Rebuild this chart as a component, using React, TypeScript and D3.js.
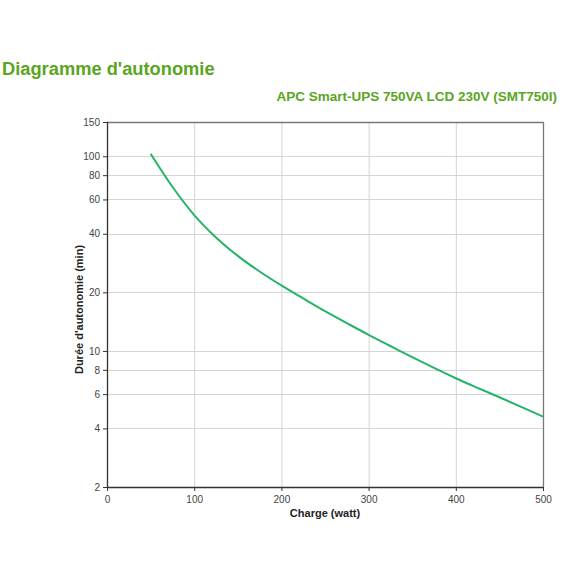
import React, { useEffect, useRef } from 'react'
import * as d3 from 'd3'

// charge (W) -> durée d'autonomie (min)
const charge = [50, 75, 100, 125, 150, 175, 200, 225, 250, 275, 300, 325, 350, 375, 400, 425, 450, 475, 500]
const autonomie = [103, 69.7, 49.9, 38.3, 30.8, 25.6, 21.7, 18.6, 16.0, 13.9, 12.1, 10.6, 9.29, 8.18, 7.24, 6.46, 5.78, 5.16, 4.6]
const xTicks = [0, 100, 200, 300, 400, 500]
const yTicks = [2, 4, 6, 8, 10, 20, 40, 60, 80, 100, 150]

const title = "Diagramme d'autonomie"
const subtitle = 'APC Smart-UPS 750VA LCD 230V (SMT750I)'
const xLabel = 'Charge (watt)'
const yLabel = "Durée d'autonomie (min)"

const W = 566
const H = 582

const App: React.FC = () => {
  const svgRef = useRef<SVGSVGElement>(null)

  useEffect(() => {
    const svg = d3.select(svgRef.current)
    svg.selectAll('*').remove()

    const left = 107
    const right = 543
    const top = 122
    const bottom = 487
    const font = 'Liberation Sans, Arial, sans-serif'

    const x = d3.scaleLinear().domain([0, 500]).range([left, right])
    const y = d3.scaleLog().domain([2, 150]).range([bottom, top])

    // titres
    svg.append('text')
      .attr('x', 2).attr('y', 75)
      .attr('font-family', font).attr('font-size', 18.3).attr('font-weight', 'bold')
      .attr('fill', '#5aa51e')
      .text(title)

    svg.append('text')
      .attr('x', 557).attr('y', 101)
      .attr('text-anchor', 'end')
      .attr('font-family', font).attr('font-size', 13.5).attr('font-weight', 'bold')
      .attr('fill', '#5aa51e')
      .text(subtitle)

    // grille
    const grid = svg.append('g').attr('stroke', '#d4d4d4').attr('stroke-width', 1)
    xTicks.filter(t => t > 0 && t < 500).forEach(t => {
      grid.append('line')
        .attr('x1', x(t) + 0.5).attr('x2', x(t) + 0.5)
        .attr('y1', top).attr('y2', bottom)
    })
    yTicks.filter(t => t > 2 && t < 150).forEach(t => {
      grid.append('line')
        .attr('x1', left).attr('x2', right)
        .attr('y1', Math.round(y(t)) + 0.5).attr('y2', Math.round(y(t)) + 0.5)
    })

    // cadre haut / droite
    svg.append('line')
      .attr('x1', left).attr('x2', right + 0.5)
      .attr('y1', top + 0.5).attr('y2', top + 0.5)
      .attr('stroke', '#777').attr('stroke-width', 1.3)
    svg.append('line')
      .attr('x1', right + 0.5).attr('x2', right + 0.5)
      .attr('y1', top).attr('y2', bottom)
      .attr('stroke', '#777').attr('stroke-width', 1.3)

    // courbe
    const line = d3.line<number>()
      .x((_, i) => x(charge[i]))
      .y(d => y(d))
      .curve(d3.curveMonotoneX)

    svg.append('path')
      .datum(autonomie)
      .attr('fill', 'none')
      .attr('stroke', '#25b36a')
      .attr('stroke-width', 2)
      .attr('d', line)

    // axes
    const xAxis = svg.append('g')
      .attr('transform', `translate(0,${bottom})`)
      .call(d3.axisBottom(x).tickValues(xTicks).tickSize(4).tickFormat(d => `${d}`))
    const yAxis = svg.append('g')
      .attr('transform', `translate(${left},0)`)
      .call(d3.axisLeft(y).tickValues(yTicks).tickSize(4).tickFormat(d => `${d}`))

    ;[xAxis, yAxis].forEach(a => {
      a.select('.domain').attr('stroke', '#333').attr('stroke-width', 1.3)
      a.selectAll('.tick line').attr('stroke', '#333')
      a.selectAll('.tick text')
        .attr('fill', '#444')
        .attr('font-family', font)
        .attr('font-size', 10)
    })
    yAxis.select('.domain').attr('d', `M0.5,${top}V${bottom}`)
    xAxis.select('.domain').attr('d', `M${left},0.5H${right}`)
    xAxis.selectAll('.tick text').attr('dy', '0.9em')

    svg.append('text')
      .attr('x', (left + right) / 2).attr('y', 517)
      .attr('text-anchor', 'middle')
      .attr('font-family', font).attr('font-size', 11).attr('font-weight', 'bold')
      .attr('fill', '#222')
      .text(xLabel)

    svg.append('text')
      .attr('transform', `translate(83,${(top + bottom) / 2 + 5}) rotate(-90)`)
      .attr('text-anchor', 'middle')
      .attr('font-family', font).attr('font-size', 11).attr('font-weight', 'bold')
      .attr('fill', '#222')
      .text(yLabel)
  }, [])

  return (
    <svg
      ref={svgRef}
      width={W}
      height={H}
      style={{ position: 'absolute', left: 0, top: 0, background: '#fff' }}
    />
  )
}

export default App
